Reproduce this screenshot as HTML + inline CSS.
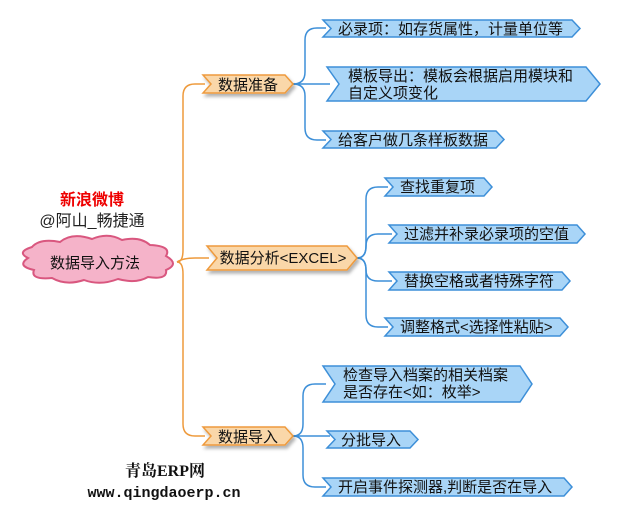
<!DOCTYPE html>
<html><head><meta charset="utf-8"><style>
html,body{margin:0;padding:0;background:#fff;}
svg{display:block;font-family:"Liberation Sans","Noto Sans CJK SC",sans-serif;}
</style></head><body>
<svg width="620" height="516" viewBox="0 0 620 516" xmlns="http://www.w3.org/2000/svg">
<defs>
<filter id="sh" x="-10%" y="-20%" width="130%" height="160%"><feDropShadow dx="2" dy="3" stdDeviation="1.5" flood-color="#000" flood-opacity="0.3"/></filter>
</defs>
<g fill="none" stroke="#ee9a3c" stroke-width="1.5">
<path d="M177,262 Q183,262 183,250 L183,96 Q183,84 195,84 L205,84"/>
<path d="M177,262 Q183,262 183,274 L183,424 Q183,436 195,436 L205,436"/>
<path d="M177,262 Q183,258 195,258 L209,258"/>
</g>
<g fill="none" stroke="#3d8fd8" stroke-width="1.5">
<path d="M293,84 Q305,84 305,72 L305,40 Q305,28 317,28 L326,28"/>
<path d="M293,84 L330,84"/>
<path d="M293,84 Q305,84 305,96 L305,128 Q305,140 317,140 L326,140"/>
<path d="M357,258 Q366,258 366,246 L366,199 Q366,187 378,187 L388,187"/>
<path d="M357,258 Q366,258 366,246 Q366,234 378,234 L392,234"/>
<path d="M357,258 Q366,258 366,270 Q366,281 378,281 L392,281"/>
<path d="M357,258 Q366,258 366,270 L366,315 Q366,327 378,327 L388,327"/>
<path d="M293,436 Q303,436 303,424 L303,396 Q303,384 315,384 L326,384"/>
<path d="M293,436 L330,436"/>
<path d="M293,436 Q303,436 303,448 L303,475 Q303,487 315,487 L326,487"/>
</g>
<g fill="#a9d5f7" stroke="#3d8fd8" stroke-width="1.5">
<path d="M323,20 L572,20 L580,28.5 L572,37 L323,37 L331,28.5 Z"/>
<path d="M327,67 L586,67 L600,84 L586,101 L327,101 L339,84 Z"/>
<path d="M323,131 L496,131 L504,139.5 L496,148 L323,148 L331,139.5 Z"/>
<path d="M385,178 L484,178 L492,187 L484,196 L385,196 L393,187 Z"/>
<path d="M389,225 L577,225 L585,234 L577,243 L389,243 L397,234 Z"/>
<path d="M389,272 L562,272 L570,281 L562,290 L389,290 L397,281 Z"/>
<path d="M385,318 L560,318 L568,327 L560,336 L385,336 L393,327 Z"/>
<path d="M323,366 L520,366 L532,384 L520,402 L323,402 L335,384 Z"/>
<path d="M327,431 L410,431 L418,439.5 L410,448 L327,448 L335,439.5 Z"/>
<path d="M323,478 L564,478 L572,487 L564,496 L323,496 L331,487 Z"/>
</g>
<g fill="#fad7a9" stroke="#ee9a3c" stroke-width="1.5" filter="url(#sh)">
<path d="M203,75 L285,75 L293,84 L285,93 L203,93 L211,84 Z"/>
<path d="M207,246 L347,246 L357,258 L347,270 L207,270 L217,258 Z"/>
<path d="M203,427 L285,427 L293,436 L285,445 L203,445 L211,436 Z"/>
</g>
<path d="M28,258 Q16,252 32,247 Q40,238 60,242 Q72,232 92,239 Q108,232 122,240 Q140,236 150,245 Q172,246 166,256 Q180,264 166,270 Q168,280 148,277 Q136,284 118,279 Q100,286 84,280 Q66,286 52,278 Q30,280 34,270 Q16,266 28,258 Z" fill="#f5b3c9" stroke="#d9577f" stroke-width="2"/>
<g font-size="15" fill="#111">
<text x="95" y="268" text-anchor="middle">数据导入方法</text>
<text x="248" y="90" text-anchor="middle">数据准备</text>
<text x="283" y="263" text-anchor="middle">数据分析&lt;EXCEL&gt;</text>
<text x="248" y="442" text-anchor="middle">数据导入</text>
<text x="338" y="34">必录项：如存货属性，计量单位等</text>
<text x="348" y="81">模板导出：模板会根据启用模块和</text>
<text x="348" y="98">自定义项变化</text>
<text x="338" y="145">给客户做几条样板数据</text>
<text x="400" y="192">查找重复项</text>
<text x="404" y="239">过滤并补录必录项的空值</text>
<text x="404" y="286">替换空格或者特殊字符</text>
<text x="400" y="332">调整格式&lt;选择性粘贴&gt;</text>
<text x="343" y="380">检查导入档案的相关档案</text>
<text x="343" y="397">是否存在&lt;如：枚举&gt;</text>
<text x="341" y="445">分批导入</text>
<text x="338" y="492">开启事件探测器,判断是否在导入</text>
</g>
<text x="92" y="205" text-anchor="middle" font-size="16" font-weight="bold" fill="#e00">新浪微博</text>
<text x="92" y="226" text-anchor="middle" font-size="16" fill="#222">@阿山_畅捷通</text>
<text x="165" y="476" text-anchor="middle" font-size="16" font-weight="bold" font-family="'Liberation Serif','Noto Serif CJK SC',serif" fill="#111">青岛ERP网</text>
<text x="164" y="497" text-anchor="middle" font-size="15" font-weight="bold" font-family="'Liberation Mono',monospace" fill="#111">www.qingdaoerp.cn</text>
</svg>
</body></html>
